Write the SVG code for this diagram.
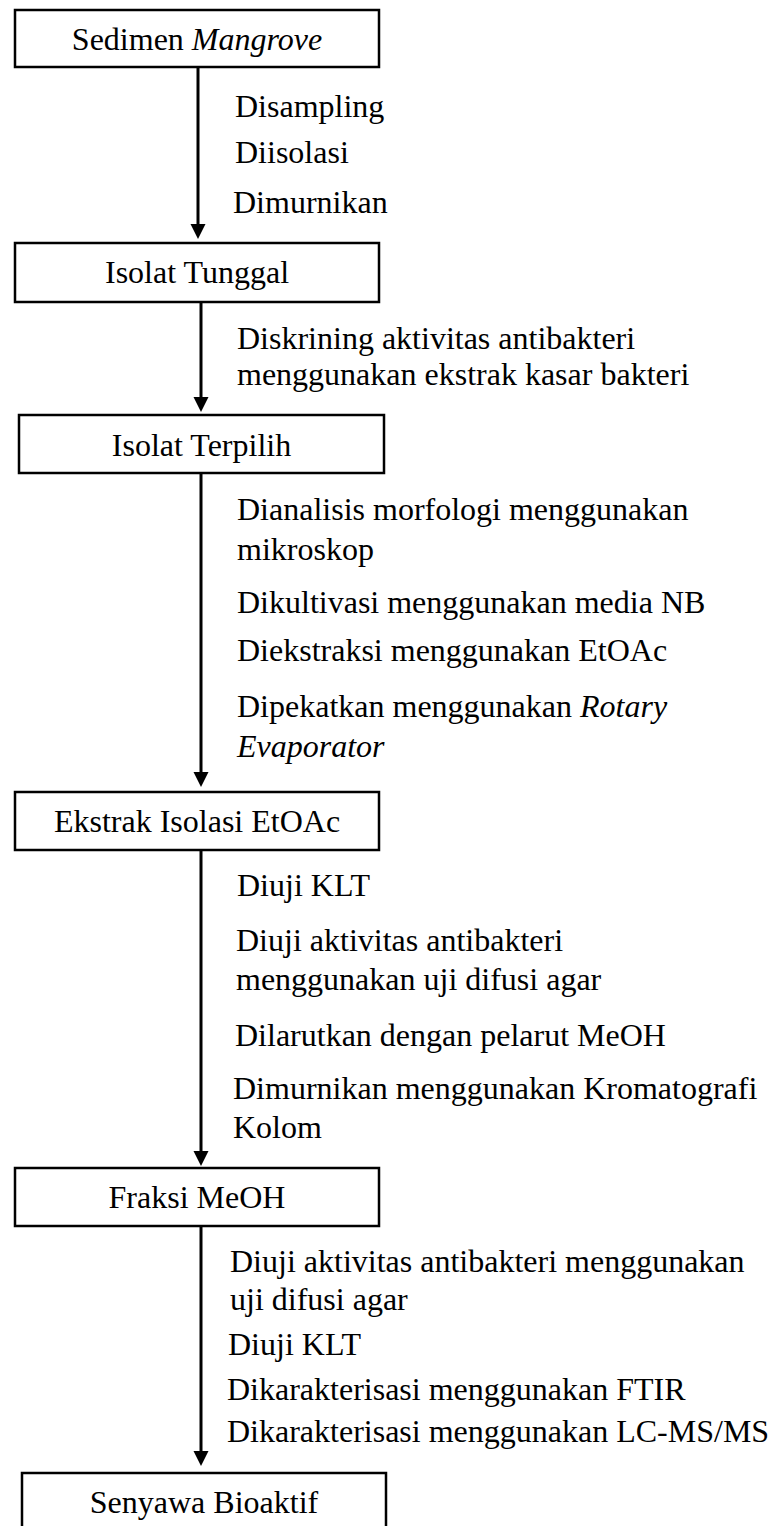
<svg xmlns="http://www.w3.org/2000/svg" width="778" height="1526" viewBox="0 0 778 1526">
<style>
.box{fill:#fff;stroke:#000;stroke-width:2.5}
.t{font-family:"Liberation Serif","Times New Roman",serif;font-size:32px;fill:#000}
.c{text-anchor:middle}
.edge{stroke:#000;stroke-width:3;fill:none}
.head{fill:#000;stroke:none}
</style>
<rect width="778" height="1526" fill="#fff"/>
<g id="connectors">
<line class="edge" x1="198" y1="67" x2="198" y2="226"/>
<path class="head" d="M190.5,224 L205.5,224 L198,239 Z"/>
<line class="edge" x1="201" y1="302" x2="201" y2="399"/>
<path class="head" d="M193.5,397 L208.5,397 L201,412 Z"/>
<line class="edge" x1="201" y1="473" x2="201" y2="774"/>
<path class="head" d="M193.5,772 L208.5,772 L201,787 Z"/>
<line class="edge" x1="201" y1="850" x2="201" y2="1153"/>
<path class="head" d="M193.5,1151 L208.5,1151 L201,1166 Z"/>
<line class="edge" x1="201" y1="1226" x2="201" y2="1453"/>
<path class="head" d="M193.5,1451 L208.5,1451 L201,1466 Z"/>
<text class="t" x="235" y="117">Disampling</text>
<text class="t" x="235" y="163">Diisolasi</text>
<text class="t" x="233" y="213">Dimurnikan</text>
<text class="t" x="237" y="349">Diskrining aktivitas antibakteri</text>
<text class="t" x="237" y="385">menggunakan ekstrak kasar bakteri</text>
<text class="t" x="237" y="520">Dianalisis morfologi menggunakan</text>
<text class="t" x="237" y="560">mikroskop</text>
<text class="t" x="237" y="613">Dikultivasi menggunakan media NB</text>
<text class="t" x="237" y="661">Diekstraksi menggunakan EtOAc</text>
<text class="t" x="237" y="717">Dipekatkan menggunakan <tspan font-style="italic">Rotary</tspan></text>
<text class="t" x="237" y="757" font-style="italic">Evaporator</text>
<text class="t" x="237" y="896">Diuji KLT</text>
<text class="t" x="236" y="951">Diuji aktivitas antibakteri</text>
<text class="t" x="236" y="990">menggunakan uji difusi agar</text>
<text class="t" x="235" y="1046">Dilarutkan dengan pelarut MeOH</text>
<text class="t" x="233" y="1099">Dimurnikan menggunakan Kromatografi</text>
<text class="t" x="233" y="1138">Kolom</text>
<text class="t" x="230" y="1272">Diuji aktivitas antibakteri menggunakan</text>
<text class="t" x="230" y="1310">uji difusi agar</text>
<text class="t" x="228" y="1355">Diuji KLT</text>
<text class="t" x="227" y="1400">Dikarakterisasi menggunakan FTIR</text>
<text class="t" x="227" y="1442">Dikarakterisasi menggunakan LC-MS/MS</text>
</g>
<g id="node-sedimen">
<rect class="box" x="15" y="10" width="364" height="57"/>
<text class="t c" x="197" y="50">Sedimen <tspan font-style="italic">Mangrove</tspan></text>
</g>
<g id="node-isolat-tunggal">
<rect class="box" x="15" y="243" width="364" height="59"/>
<text class="t c" x="197" y="283">Isolat Tunggal</text>
</g>
<g id="node-isolat-terpilih">
<rect class="box" x="19" y="415" width="365" height="58"/>
<text class="t c" x="201.5" y="456">Isolat Terpilih</text>
</g>
<g id="node-ekstrak">
<rect class="box" x="15" y="792" width="364" height="58"/>
<text class="t c" x="197" y="832">Ekstrak Isolasi EtOAc</text>
</g>
<g id="node-fraksi">
<rect class="box" x="15" y="1168" width="364" height="58"/>
<text class="t c" x="197" y="1208">Fraksi MeOH</text>
</g>
<g id="node-senyawa">
<rect class="box" x="22" y="1473" width="364" height="70"/>
<text class="t c" x="204" y="1513">Senyawa Bioaktif</text>
</g>
</svg>
